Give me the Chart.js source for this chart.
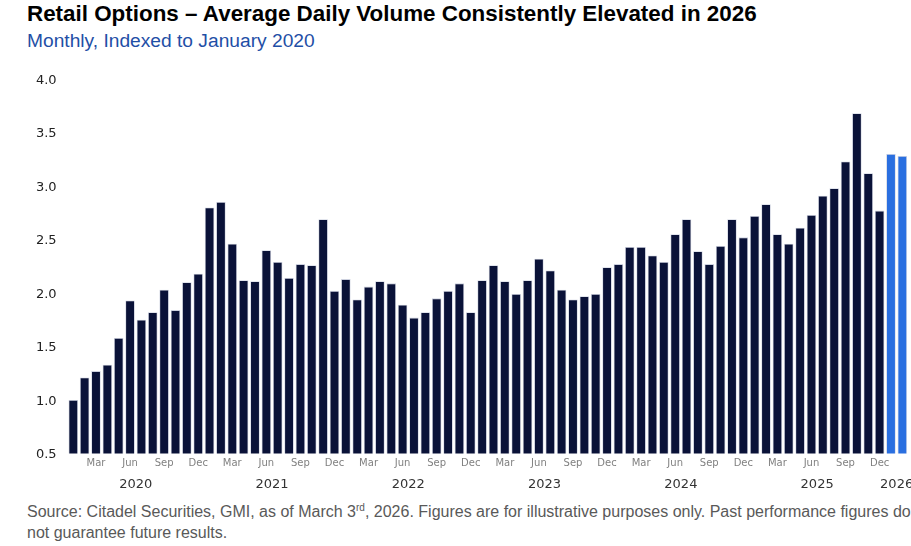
<!DOCTYPE html>
<html>
<head>
<meta charset="utf-8">
<script src="https://cdn.jsdelivr.net/npm/chart.js@4/dist/chart.umd.min.js"></script>
<style>
    html, body { margin: 0; padding: 0; background: #fff; overflow: hidden; }
    body { width: 911px; height: 546px; position: relative; }
    #title { position: absolute; left: 27px; top: 1px; font: bold 22.4px "Liberation Sans", Arial, sans-serif; color: #000; white-space: nowrap; }
    #subtitle { position: absolute; left: 27px; top: 30px; font: 19.2px "Liberation Sans", Arial, sans-serif; color: #1f4fa6; white-space: nowrap; }
    #wrap { position: absolute; left: 0; top: 60px; width: 911px; height: 440px; }
    #source { position: absolute; left: 27px; top: 501px; width: 900px; font: 16px/21px "Liberation Sans", Arial, sans-serif; color: #595959; }
    #source sup { font-size: 10px; vertical-align: 6px; line-height: 0; }
</style>
</head>
<body>
<div id="title">Retail Options – Average Daily Volume Consistently Elevated in 2026</div>
<div id="subtitle">Monthly, Indexed to January 2020</div>
<div id="wrap"><canvas id="chart"></canvas></div>
<div id="source">Source: Citadel Securities, GMI, as of March 3<sup>rd</sup>, 2026. Figures are for illustrative purposes only. Past performance figures do not guarantee future results.</div>
<script>
const monthNames = ['Jan', 'Feb', 'Mar', 'Apr', 'May', 'Jun', 'Jul', 'Aug', 'Sep', 'Oct', 'Nov', 'Dec'];
const years = ['2020', '2021', '2022', '2023', '2024', '2025', '2026'];
const shownMonths = ['Mar', 'Jun', 'Sep', 'Dec'];
const yTicks = [0.5, 1.0, 1.5, 2.0, 2.5, 3.0, 3.5, 4.0];

// Jan 2020 .. Feb 2026, index (Jan 2020 = 1.0)
const volume2020 = [1.00, 1.21, 1.27, 1.33, 1.58, 1.93, 1.75, 1.82, 2.03, 1.84, 2.10, 2.18];
const volume2021 = [2.80, 2.85, 2.46, 2.12, 2.11, 2.40, 2.29, 2.14, 2.27, 2.26, 2.69, 2.02];
const volume2022 = [2.13, 1.94, 2.06, 2.11, 2.09, 1.89, 1.77, 1.82, 1.95, 2.02, 2.09, 1.82];
const volume2023 = [2.12, 2.26, 2.11, 1.99, 2.12, 2.32, 2.21, 2.03, 1.94, 1.97, 1.99, 2.24];
const volume2024 = [2.27, 2.43, 2.43, 2.35, 2.29, 2.55, 2.69, 2.39, 2.27, 2.44, 2.69, 2.52];
const volume2025 = [2.72, 2.83, 2.55, 2.46, 2.61, 2.73, 2.91, 2.98, 3.23, 3.68, 3.12, 2.77];
const volume2026 = [3.30, 3.28];

const allSeries = [volume2020, volume2021, volume2022, volume2023, volume2024, volume2025, volume2026];

const labels = [];
const yearOf = [];
const values = [];
allSeries.forEach(function(series, y) {
    series.forEach(function(v, m) {
        labels.push(monthNames[m]);
        yearOf.push(years[y]);
        values.push(v);
    });
});

const barColors = yearOf.map(y => y === '2026' ? '#2a6fe0' : '#0a1238');

// year labels under the month ticks, centred on each year's bars
const yearLabels = {
    id: 'yearLabels',
    afterDraw(chart) {
        const ctx = chart.ctx;
        const xs = chart.scales.x;
        ctx.save();
        ctx.font = '13px "DejaVu Sans"';
        ctx.fillStyle = '#333333';
        ctx.textAlign = 'center';
        ctx.textBaseline = 'middle';
        years.forEach(function(y) {
            const first = yearOf.indexOf(y);
            const last = yearOf.lastIndexOf(y);
            const x = (xs.getPixelForValue(first) + xs.getPixelForValue(last)) / 2;
            ctx.fillText(y, x, xs.top + 31);
        });
        ctx.restore();
    }
};

new Chart(document.getElementById('chart'), {
    type: 'bar',
    data: {
        labels: labels,
        datasets: [{
            data: values,
            backgroundColor: barColors,
            borderColor: 'rgba(200, 204, 220, 0.9)',
            borderWidth: 0.8,
            barPercentage: 0.84,
            categoryPercentage: 1.0
        }]
    },
    options: {
        responsive: true,
        maintainAspectRatio: false,
        animation: false,
        events: [],
        layout: { padding: { left: 0, right: 3, top: 19, bottom: 0 } },
        plugins: {
            legend: { display: false },
            tooltip: { enabled: false }
        },
        scales: {
            x: {
                grid: { display: false, drawTicks: false },
                border: { display: false },
                afterFit(scale) { scale.height = 46.5; },
                ticks: {
                    autoSkip: false,
                    maxRotation: 0,
                    padding: 4,
                    color: '#808080',
                    font: { family: 'DejaVu Sans', size: 10 },
                    callback: function(v, i) {
                        return shownMonths.includes(labels[i]) ? labels[i] : '';
                    }
                }
            },
            y: {
                min: 0.5,
                max: 4.0,
                afterFit(scale) { scale.width = 67.6; },
                afterBuildTicks(scale) { scale.ticks = yTicks.map(v => ({ value: v })); },
                grid: { display: false, drawTicks: false },
                border: { display: false },
                ticks: {
                    padding: 11,
                    labelOffset: 1.5,
                    color: '#222222',
                    font: { family: 'DejaVu Sans', size: 13 },
                    callback: v => v.toFixed(1)
                }
            }
        }
    },
    plugins: [yearLabels]
});
</script>
</body>
</html>
